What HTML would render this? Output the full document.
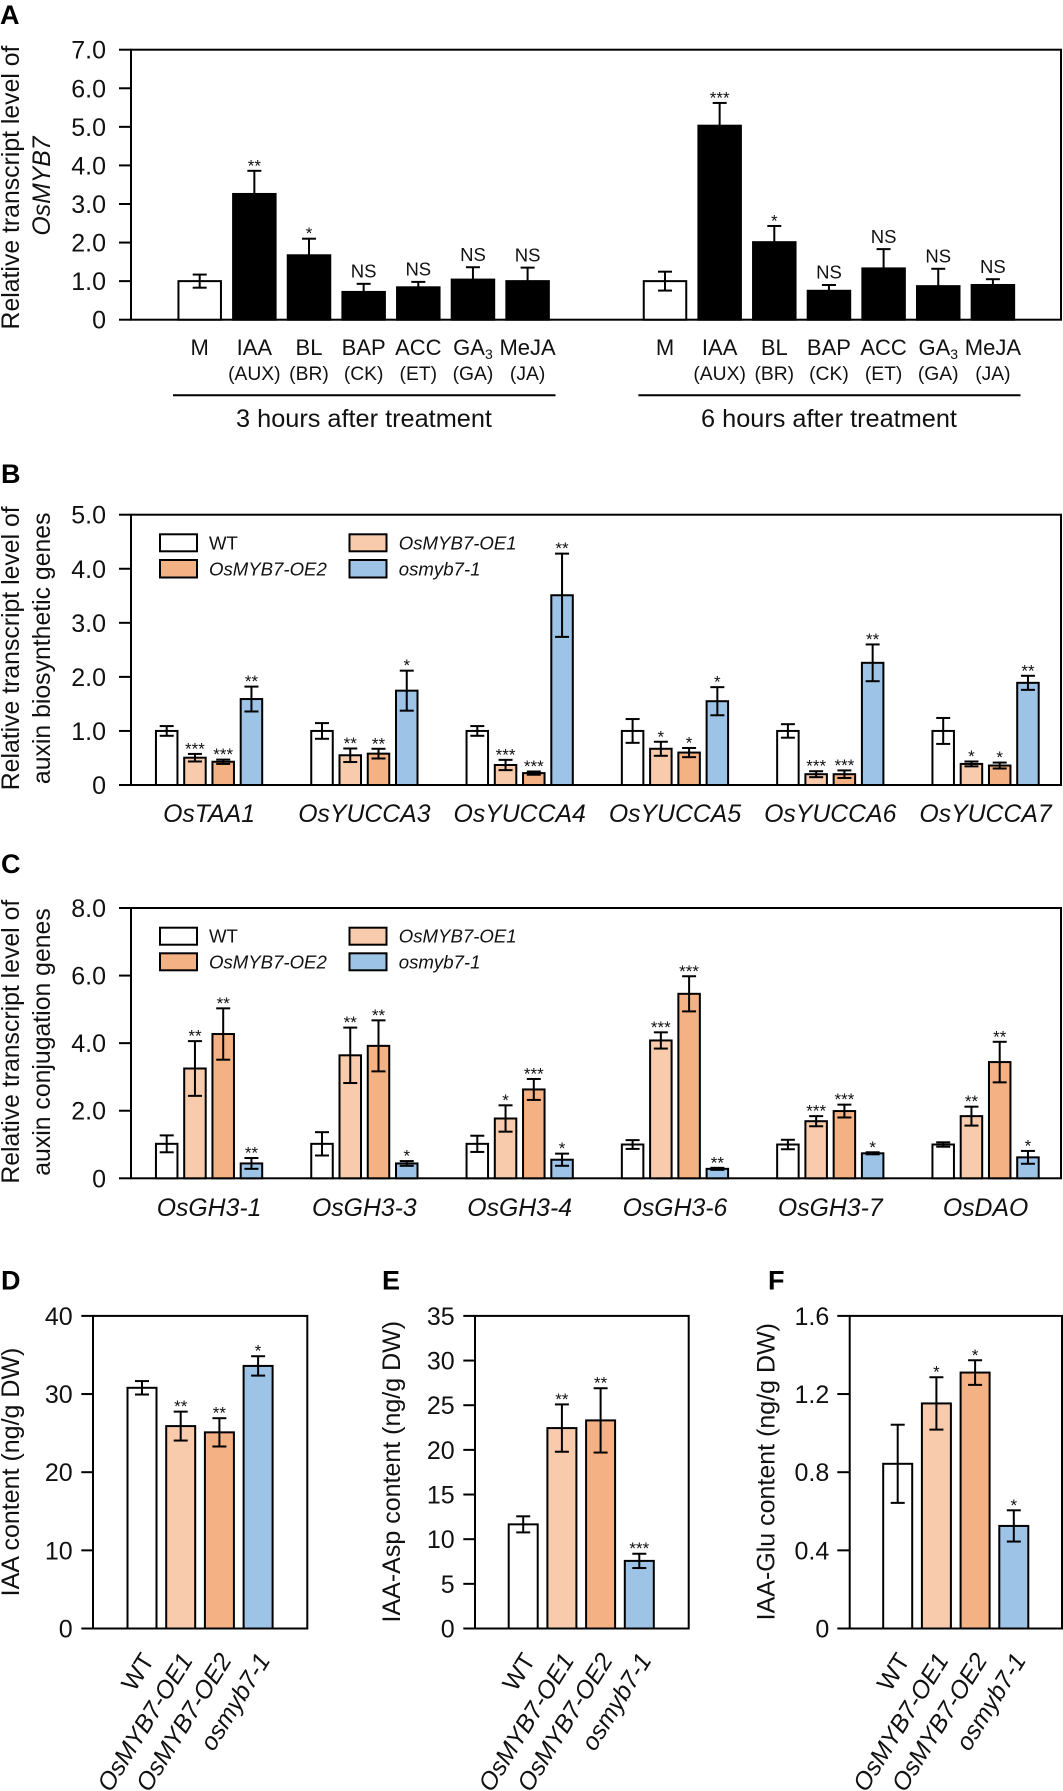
<!DOCTYPE html>
<html lang="en">
<head>
<meta charset="utf-8">
<title>OsMYB7 transcript levels and auxin content</title>
<style>
html,body{margin:0;padding:0;background:#fff;}
svg{display:block;font-family:"Liberation Sans",Arial,sans-serif;fill:#111;}
.letter{font-size:27px;font-weight:bold;fill:#000;}
.title{font-size:24.8px;text-anchor:middle;}
.legend{font-size:18.6px;font-style:italic;}
.swatch{stroke:#000;stroke-width:2;}
</style>
</head>
<body>
<svg id="figure" xmlns="http://www.w3.org/2000/svg" width="1063" height="1791" viewBox="0 0 1063 1791">
  <rect x="0" y="0" width="1063" height="1791" fill="#fff"/>

  <text class="letter" x="0" y="24">A</text>
  <text class="letter" x="1" y="483">B</text>
  <text class="letter" x="1" y="873">C</text>
  <text class="letter" x="1" y="1289.5">D</text>
  <text class="letter" x="382" y="1289.5">E</text>
  <text class="letter" x="768" y="1289.5">F</text>

  <g id="panel-a">
    <text class="title" transform="translate(19,187.5) rotate(-90)">Relative transcript level of</text>
    <text class="title" font-style="italic" transform="translate(50,186) rotate(-90)">OsMYB7</text>
    <line x1="173" x2="555.5" y1="395.3" y2="395.3" stroke="#000" stroke-width="2"/>
    <line x1="638.4" x2="1020.5" y1="395.3" y2="395.3" stroke="#000" stroke-width="2"/>
    <text font-size="25.3" text-anchor="middle" x="364" y="427">3 hours after treatment</text>
    <text font-size="25.3" text-anchor="middle" x="829" y="427">6 hours after treatment</text>
  </g>

  <g id="panel-b">
    <text class="title" transform="translate(19,648.3) rotate(-90)">Relative transcript level of</text>
    <text class="title" transform="translate(50,648.3) rotate(-90)">auxin biosynthetic genes</text>
  </g>

  <g id="panel-c">
    <text class="title" transform="translate(19,1041.7) rotate(-90)">Relative transcript level of</text>
    <text class="title" transform="translate(50,1042) rotate(-90)">auxin conjugation genes</text>
  </g>

  <g id="panel-d">
    <text class="title" style="font-size:25px" transform="translate(19,1472) rotate(-90)">IAA content (ng/g DW)</text>
  </g>
  <g id="panel-e">
    <text class="title" style="font-size:25px" transform="translate(400,1471.7) rotate(-90)">IAA-Asp content (ng/g DW)</text>
  </g>
  <g id="panel-f">
    <text class="title" style="font-size:25px" transform="translate(774.3,1471.7) rotate(-90)">IAA-Glu content (ng/g DW)</text>
  </g>

  <g id="legend-b">
    <rect class="swatch" x="160" y="534.3" width="37" height="17" fill="#fff"/>
    <text class="legend" x="209" y="549.3" style="font-style:normal">WT</text>
    <rect class="swatch" x="160" y="560" width="37" height="17.5" fill="#F4B183"/>
    <text class="legend" x="209" y="575.3">OsMYB7-OE2</text>
    <rect class="swatch" x="349.5" y="534.3" width="37" height="17" fill="#F7CBAC"/>
    <text class="legend" x="398.8" y="549.3">OsMYB7-OE1</text>
    <rect class="swatch" x="349.5" y="560" width="37" height="17.5" fill="#9DC3E6"/>
    <text class="legend" x="398.8" y="575.3">osmyb7-1</text>
  </g>
  <g id="legend-c">
    <rect class="swatch" x="160" y="927.7" width="37" height="17" fill="#fff"/>
    <text class="legend" x="209" y="942.7" style="font-style:normal">WT</text>
    <rect class="swatch" x="160" y="953.3" width="37" height="17" fill="#F4B183"/>
    <text class="legend" x="209" y="968.7">OsMYB7-OE2</text>
    <rect class="swatch" x="349.5" y="927.7" width="37" height="17" fill="#F7CBAC"/>
    <text class="legend" x="398.8" y="942.7">OsMYB7-OE1</text>
    <rect class="swatch" x="349.5" y="953.3" width="37" height="17" fill="#9DC3E6"/>
    <text class="legend" x="398.8" y="968.7">osmyb7-1</text>
  </g>
</svg>

<script>
// ---------- Panel A data ----------
const aCategories = ['M', 'IAA', 'BL', 'BAP', 'ACC', 'GA3', 'MeJA'];
const aSubLabels = ['', '(AUX)', '(BR)', '(CK)', '(ET)', '(GA)', '(JA)'];
const a3hValues = [1.0, 3.26, 1.67, 0.72, 0.84, 1.04, 1.0];
const a3hErrors = [0.17, 0.6, 0.43, 0.21, 0.14, 0.32, 0.35];
const a3hMarks = ['', '**', '*', 'NS', 'NS', 'NS', 'NS'];
const a6hValues = [1.0, 5.03, 2.01, 0.75, 1.33, 0.87, 0.9];
const a6hErrors = [0.245, 0.59, 0.42, 0.15, 0.5, 0.45, 0.15];
const a6hMarks = ['', '***', '*', 'NS', 'NS', 'NS', 'NS'];
const aTickValues = [0, 1, 2, 3, 4, 5, 6, 7];
const aTickLabels = ['0', '1.0', '2.0', '3.0', '4.0', '5.0', '6.0', '7.0'];

// ---------- Panel B data ----------
const bGenes = ['OsTAA1', 'OsYUCCA3', 'OsYUCCA4', 'OsYUCCA5', 'OsYUCCA6', 'OsYUCCA7'];
const bWT = [1.0, 1.0, 1.0, 1.0, 1.0, 1.0];
const bWTErr = [0.09, 0.145, 0.09, 0.22, 0.125, 0.24];
const bOE1 = [0.505, 0.55, 0.37, 0.67, 0.2, 0.39];
const bOE1Err = [0.07, 0.125, 0.095, 0.13, 0.055, 0.045];
const bOE1Stars = ['***', '**', '***', '*', '***', '*'];
const bOE2 = [0.43, 0.58, 0.22, 0.6, 0.2, 0.36];
const bOE2Err = [0.04, 0.09, 0.03, 0.085, 0.07, 0.055];
const bOE2Stars = ['***', '**', '***', '*', '***', '*'];
const bKO = [1.59, 1.745, 3.51, 1.55, 2.26, 1.89];
const bKOErr = [0.23, 0.37, 0.77, 0.26, 0.34, 0.13];
const bKOStars = ['**', '*', '**', '*', '**', '**'];
const bTickValues = [0, 1, 2, 3, 4, 5];
const bTickLabels = ['0', '1.0', '2.0', '3.0', '4.0', '5.0'];

// ---------- Panel C data ----------
const cGenes = ['OsGH3-1', 'OsGH3-3', 'OsGH3-4', 'OsGH3-6', 'OsGH3-7', 'OsDAO'];
const cWT = [1.02, 1.02, 1.02, 1.0, 1.0, 1.0];
const cWTErr = [0.25, 0.345, 0.24, 0.13, 0.14, 0.065];
const cOE1 = [3.25, 3.64, 1.77, 4.08, 1.69, 1.84];
const cOE1Err = [0.81, 0.82, 0.39, 0.24, 0.15, 0.28];
const cOE1Stars = ['**', '**', '*', '***', '***', '**'];
const cOE2 = [4.27, 3.92, 2.63, 5.46, 1.99, 3.44];
const cOE2Err = [0.76, 0.755, 0.31, 0.52, 0.19, 0.6];
const cOE2Stars = ['**', '**', '***', '***', '***', '**'];
const cKO = [0.44, 0.44, 0.55, 0.28, 0.74, 0.62];
const cKOErr = [0.16, 0.07, 0.18, 0.03, 0.03, 0.19];
const cKOStars = ['**', '*', '*', '**', '*', '*'];
const cTickValues = [0, 2, 4, 6, 8];
const cTickLabels = ['0', '2.0', '4.0', '6.0', '8.0'];

// ---------- Panels D, E, F data ----------
const genotypeLabels = ['WT', 'OsMYB7-OE1', 'OsMYB7-OE2', 'osmyb7-1'];
const dValues = [30.8, 25.9, 25.1, 33.6];
const dErrors = [0.86, 1.85, 1.81, 1.24];
const dStars = ['', '**', '**', '*'];
const dTickValues = [0, 10, 20, 30, 40];
const dTickLabels = ['0', '10', '20', '30', '40'];
const eValues = [11.66, 22.44, 23.3, 7.57];
const eErrors = [0.9, 2.65, 3.6, 0.8];
const eStars = ['', '**', '**', '***'];
const eTickValues = [0, 5, 10, 15, 20, 25, 30, 35];
const eTickLabels = ['0', '5', '10', '15', '20', '25', '30', '35'];
const fValues = [0.843, 1.152, 1.31, 0.525];
const fErrors = [0.2, 0.134, 0.063, 0.08];
const fStars = ['', '*', '*', '*'];
const fTickValues = [0, 0.4, 0.8, 1.2, 1.6];
const fTickLabels = ['0', '0.4', '0.8', '1.2', '1.6'];

// ---------- Drawing helpers ----------
const NS = 'http://www.w3.org/2000/svg';
const INK = '#000';
const FILL_WT = '#fff';
const FILL_OE1 = '#F7CBAC';
const FILL_OE2 = '#F4B183';
const FILL_KO = '#9DC3E6';

function make(tag, parent) {
  const el = document.createElementNS(NS, tag);
  parent.appendChild(el);
  return el;
}

function drawLabel(parent, str, x, y, size, anchor, name, italic) {
  const el = make('text', parent);
  
  
  el.setAttribute('x', x);
  el.setAttribute('y', y);
  el.setAttribute('font-size', size);
  el.setAttribute('text-anchor', anchor);
  if (italic) el.setAttribute('font-style', 'italic');
  el.textContent = str;
  return el;
}

function drawFrame(parent, frame, tickValues, tickLabels, tickSize) {
  const y = v => frame.bottom - v / frame.max * (frame.bottom - frame.top);
  const box = make('rect', parent);
  
  
  box.setAttribute('x', frame.left);
  box.setAttribute('y', frame.top);
  box.setAttribute('width', frame.right - frame.left);
  box.setAttribute('height', frame.bottom - frame.top);
  box.setAttribute('fill', 'none');
  box.setAttribute('stroke', INK);
  box.setAttribute('stroke-width', 2);
  tickValues.forEach((v, i) => {
    const t = make('line', parent);
    
    
    t.setAttribute('x1', frame.tickStart);
    t.setAttribute('x2', frame.left);
    t.setAttribute('y1', y(v));
    t.setAttribute('y2', y(v));
    t.setAttribute('stroke', INK);
    t.setAttribute('stroke-width', 2);
    drawLabel(parent, tickLabels[i], frame.labelRight, y(v) + 9, tickSize, 'end', 'y-tick-label', false);
  });
  return y;
}

function drawBar(parent, cx, width, value, y, fill) {
  const r = make('rect', parent);
  
  
  r.setAttribute('x', cx - width / 2 + 1);
  r.setAttribute('y', y(value));
  r.setAttribute('width', width - 2);
  r.setAttribute('height', y(0) - y(value));
  r.setAttribute('fill', fill);
  r.setAttribute('stroke', INK);
  r.setAttribute('stroke-width', 2);
}

function drawError(parent, cx, value, err, y) {
  const g = make('g', parent);
  
  
  g.setAttribute('stroke', INK);
  g.setAttribute('stroke-width', 2);
  const stem = make('line', g);
  stem.setAttribute('x1', cx);
  stem.setAttribute('x2', cx);
  stem.setAttribute('y1', y(value - err));
  stem.setAttribute('y2', y(value + err));
  [value - err, value + err].forEach(v => {
    const cap = make('line', g);
    cap.setAttribute('x1', cx - 7);
    cap.setAttribute('x2', cx + 7);
    cap.setAttribute('y1', y(v));
    cap.setAttribute('y2', y(v));
  });
}

function drawMark(parent, mark, cx, topY) {
  if (!mark) return;
  if (mark === 'NS') {
    drawLabel(parent, mark, cx, topY - 6.3, 18.5, 'middle', 'significance-ns', false);
  } else {
    drawLabel(parent, mark, cx, topY + 0.5, 17, 'middle', 'significance-stars', false);
  }
}

// ---------- Panel A ----------
(function () {
  const parent = document.getElementById('panel-a');
  const frame = { top: 49.7, bottom: 319.7, left: 131, right: 1061, max: 7, tickStart: 119, labelRight: 106 };
  const y = drawFrame(parent, frame, aTickValues, aTickLabels, 25);
  const xA = (start, i) => start + i * 54.65;
  const sets = [
    { start: 199.7, values: a3hValues, errors: a3hErrors, marks: a3hMarks },
    { start: 665, values: a6hValues, errors: a6hErrors, marks: a6hMarks }
  ];
  sets.forEach(set => {
    aCategories.forEach((cat, i) => {
      const cx = xA(set.start, i);
      drawBar(parent, cx, 44.5, set.values[i], y, i === 0 ? '#fff' : '#000');
      drawError(parent, cx, set.values[i], set.errors[i], y);
      drawMark(parent, set.marks[i], cx, y(set.values[i] + set.errors[i]));
      const label = drawLabel(parent, cat === 'GA3' ? 'GA' : cat, cx, 355, 22, 'middle', 'x-category-label', false);
      if (cat === 'GA3') {
        const sub = make('tspan', label);
        
        
        sub.setAttribute('font-size', 14);
        sub.setAttribute('dy', 4);
        sub.textContent = '3';
      }
      if (aSubLabels[i]) drawLabel(parent, aSubLabels[i], cx, 380, 19.3, 'middle', 'x-hormone-class-label', false);
    });
  });
})();

// ---------- Panels B and C (grouped bars) ----------
function drawGrouped(parentId, frame, genes, tickValues, tickLabels, baseline, series) {
  const parent = document.getElementById(parentId);
  const y = drawFrame(parent, frame, tickValues, tickLabels, 25);
  const xG = (g, s) => 166.7 + g * 155.3 + s * 28.25;
  genes.forEach((gene, g) => {
    series.forEach((s, si) => {
      const cx = xG(g, si);
      drawBar(parent, cx, 23.5, s.values[g], y, s.fill);
      drawError(parent, cx, s.values[g], s.errors[g], y);
      if (s.stars) drawMark(parent, s.stars[g], cx, y(s.values[g] + s.errors[g]));
    });
    drawLabel(parent, gene, (xG(g, 0) + xG(g, 3)) / 2, baseline, 24.8, 'middle', 'x-gene-label', true);
  });
}

drawGrouped('panel-b',
  { top: 514.7, bottom: 785, left: 131, right: 1061, max: 5, tickStart: 119, labelRight: 106 },
  bGenes, bTickValues, bTickLabels, 822,
  [
    { values: bWT, errors: bWTErr, stars: null, fill: FILL_WT },
    { values: bOE1, errors: bOE1Err, stars: bOE1Stars, fill: FILL_OE1 },
    { values: bOE2, errors: bOE2Err, stars: bOE2Stars, fill: FILL_OE2 },
    { values: bKO, errors: bKOErr, stars: bKOStars, fill: FILL_KO }
  ]);

drawGrouped('panel-c',
  { top: 908, bottom: 1178.3, left: 131, right: 1061, max: 8, tickStart: 119, labelRight: 106 },
  cGenes, cTickValues, cTickLabels, 1216,
  [
    { values: cWT, errors: cWTErr, stars: null, fill: FILL_WT },
    { values: cOE1, errors: cOE1Err, stars: cOE1Stars, fill: FILL_OE1 },
    { values: cOE2, errors: cOE2Err, stars: cOE2Stars, fill: FILL_OE2 },
    { values: cKO, errors: cKOErr, stars: cKOStars, fill: FILL_KO }
  ]);

// ---------- Panels D, E, F (single groups) ----------
function drawContent(parentId, frame, firstBar, values, errors, stars, tickValues, tickLabels) {
  const parent = document.getElementById(parentId);
  const y = drawFrame(parent, frame, tickValues, tickLabels, 25);
  const fills = [FILL_WT, FILL_OE1, FILL_OE2, FILL_KO];
  const xC = i => firstBar + i * 38.7;
  values.forEach((v, i) => {
    const cx = xC(i);
    drawBar(parent, cx, 31, v, y, fills[i]);
    drawError(parent, cx, v, errors[i], y);
    drawMark(parent, stars[i], cx, y(v + errors[i]));
    const lx = cx + 13;
    const ly = 1660;
    const label = drawLabel(parent, genotypeLabels[i], 0, 0, 24.8, 'end', 'x-genotype-label', i > 0);
    label.setAttribute('transform', 'translate(' + lx + ',' + ly + ') rotate(-58)');
  });
}

drawContent('panel-d',
  { top: 1315.9, bottom: 1628.5, left: 93, right: 307.3, max: 40, tickStart: 81.3, labelRight: 72.7 },
  142, dValues, dErrors, dStars, dTickValues, dTickLabels);

drawContent('panel-e',
  { top: 1315.9, bottom: 1628.5, left: 475, right: 688.7, max: 35, tickStart: 463.3, labelRight: 454.7 },
  523.2, eValues, eErrors, eStars, eTickValues, eTickLabels);

drawContent('panel-f',
  { top: 1315.9, bottom: 1628.5, left: 849.7, right: 1062, max: 1.6, tickStart: 837.3, labelRight: 829.3 },
  897.7, fValues, fErrors, fStars, fTickValues, fTickLabels);
</script>
</body>
</html>
